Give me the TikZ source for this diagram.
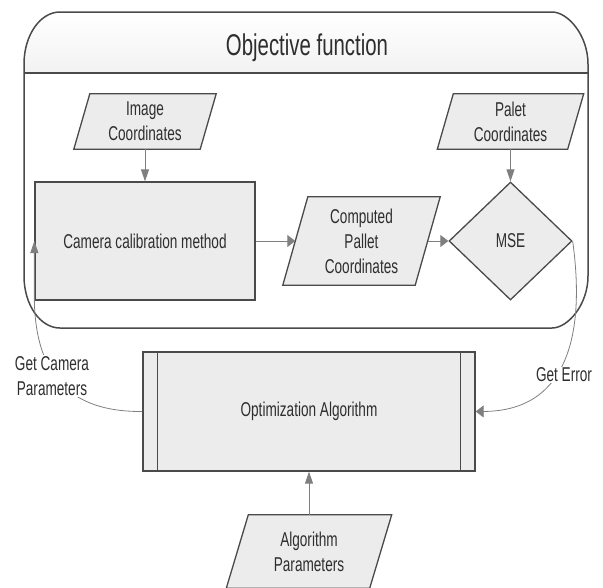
\documentclass[tikz,border=0pt]{standalone}
\usepackage{fontspec}
\setmainfont[FakeStretch=0.68]{Liberation Sans}
\usetikzlibrary{shapes.geometric,arrows.meta,backgrounds}
\definecolor{boxfill}{HTML}{ECECEC}
\definecolor{boxline}{HTML}{4A4A4A}
\definecolor{arrowc}{HTML}{7F7F7F}
\definecolor{txt}{HTML}{2E2E2E}
\definecolor{headfill}{HTML}{F2F2F2}
\tikzset{
  every node/.style={text=txt},
  nodefont/.style={font=\fontsize{20}{25}\selectfont},
  procbox/.style={rectangle, draw=boxline, fill=boxfill, line width=1.3pt, inner sep=0pt, nodefont, align=center},
  paratext/.style={rectangle, inner sep=0pt, nodefont, align=center},
  decision/.style={diamond, draw=boxline, fill=boxfill, line width=1.3pt, inner sep=0pt, nodefont},
  flowh/.style={arrowc, line width=1pt, -{Triangle[length=8pt,width=12pt]}},
  flowv/.style={arrowc, line width=1pt, -{Triangle[length=12pt,width=8pt]}},
  loopline/.style={arrowc, line width=0.8pt},
  lbl/.style={fill=white, inner sep=1pt, nodefont, align=center},
  frame/.style={draw=boxline, line width=1.5pt},
  paraline/.style={draw=boxline, fill=boxfill, line width=1.3pt, line join=miter}
}
\newcommand\paraoutline[2]{%
  \begin{scope}[on background layer]
    \filldraw[paraline] ([xshift=#2pt]#1.north west) -- ([xshift=#2pt]#1.north east)
      -- ([xshift=-#2pt]#1.south east) -- ([xshift=-#2pt]#1.south west) -- cycle;
  \end{scope}}
\begin{document}
\begin{tikzpicture}[x=1pt,y=-1pt]
\useasboundingbox (0,0) rectangle (603,587);
% container header
\shade[top color=white, bottom color=headfill]
  (24,73) -- (24,64) .. controls (24,35.3) and (40.1,12) .. (60,12) -- (552,12)
  .. controls (567.9,12) and (588,35.3) .. (588,64) -- (588,73) -- cycle;
\draw[frame] (24,64) .. controls (24,35.3) and (40.1,12) .. (60,12) -- (552,12)
  .. controls (567.9,12) and (588,35.3) .. (588,64) -- (588,276)
  .. controls (588,304.7) and (567.9,328) .. (552,328) -- (60,328)
  .. controls (40.1,328) and (24,304.7) .. (24,276) -- cycle;
\draw[frame] (24,73) -- (588,73);
\node[font=\fontsize{30}{36}\selectfont, anchor=base] (title) at (307,55) {Objective function};

% nodes
\node[paratext, minimum width=126pt, minimum height=55pt] (img) at (145,121.5) {Image\\Coordinates};
\paraoutline{img}{8}
\node[paratext, minimum width=130pt, minimum height=55pt] (pal) at (510.5,121.5) {Palet\\Coordinates};
\paraoutline{pal}{8}
\node[procbox, minimum width=220pt, minimum height=118pt] (cam) at (145,241) {Camera calibration method};
\node[paratext, minimum width=132pt, minimum height=88pt] (comp) at (361.5,241) {Computed\\Pallet\\Coordinates};
\paraoutline{comp}{12.5}
\node[decision, minimum width=123pt, minimum height=118pt] (mse) at (510.5,241) {MSE};
\node[procbox, minimum width=332pt, minimum height=119pt] (opt) at (309,411.5) {Optimization Algorithm};
\draw[boxline, line width=1.3pt] ([xshift=15pt]opt.north west) -- ([xshift=15pt]opt.south west)
  ([xshift=-15pt]opt.north east) -- ([xshift=-15pt]opt.south east);
\node[paratext, minimum width=143pt, minimum height=73pt] (alg) at (309,551.5) {Algorithm\\Parameters};
\paraoutline{alg}{11}

% connectors
\draw[flowv] (img.south) -- (cam.north);
\draw[flowv] (pal.south) -- (mse.north);
\draw[flowh] (cam) -- (comp);
\draw[flowh] (comp) -- (mse);
\draw[flowv] (alg) -- (opt);
\draw[loopline, -{Triangle[length=12pt,width=8pt]}] (opt.west) .. controls (80,412) and (36,385) .. (cam.south west) -- (cam.west);
\draw[loopline, -{Triangle[length=8pt,width=12pt]}] (mse.east) .. controls (585,330) and (570,411) .. (opt.east);
\node[lbl] (lcam) at (52,376) {Get Camera\\Parameters};
\node[lbl] (lerr) at (564,375) {Get Error};
\end{tikzpicture}
\end{document}
